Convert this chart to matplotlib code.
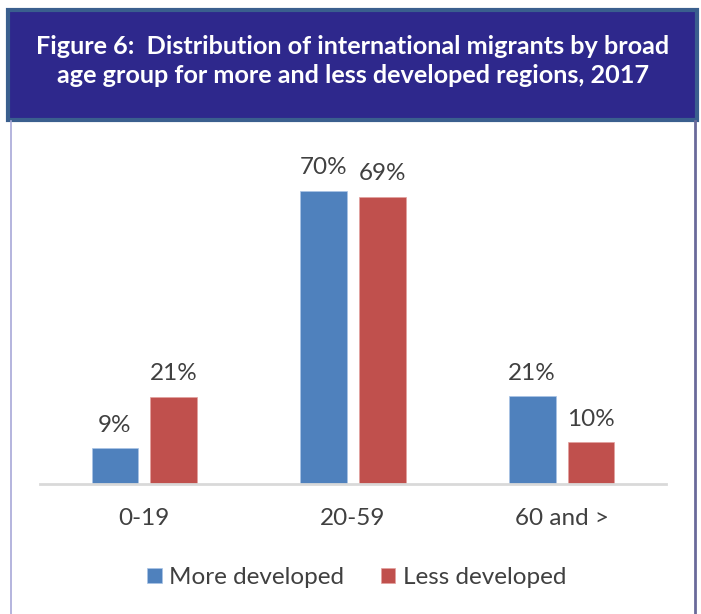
import matplotlib.pyplot as plt
import numpy as np
from matplotlib.patches import Rectangle
from matplotlib.lines import Line2D

# data
age_groups = ['0-19', '20-59', '60 and >']
more_developed = [8.6, 70.4, 21.1]
less_developed = [20.9, 68.9, 10.0]
series_names = ['More developed', 'Less developed']

title = ('Figure 6:  Distribution of international migrants by broad\n'
         'age group for more and less developed regions, 2017')

blue = '#4F81BD'
red = '#C0504D'
text_col = '#404040'

plt.rcParams['font.family'] = ['Lato', 'DejaVu Sans']

W, H = 701, 614
fig = plt.figure(figsize=(W / 100, H / 100), dpi=100)

# title banner
fig.patches.append(Rectangle((8 / W, 1 - 120 / H), 689 / W, 110 / H,
                             transform=fig.transFigure, facecolor='#2E288C',
                             edgecolor='#3A5F8E', linewidth=3, zorder=0))
fig.text(353 / W, 1 - 61 / H, title, color='white', fontsize=18.2,
         fontweight='bold', ha='center', va='center', linespacing=1.3)

# side borders of the frame
fig.add_artist(Line2D([11 / W, 11 / W], [0, 1 - 121 / H], color='#A8A8D8',
                      linewidth=1.2, transform=fig.transFigure))
fig.add_artist(Line2D([695 / W, 695 / W], [0, 1 - 121 / H], color='#6A6A9A',
                      linewidth=2, transform=fig.transFigure))

# plot area: baseline at y=484px, x from 40 to 666px
ax = fig.add_axes([40 / W, (H - 484) / H, 626 / W, 333.3 / H])

x = np.arange(len(age_groups))
bw = 0.223
off = 0.141
b1 = ax.bar(x - off, more_developed, bw, color=blue, label=series_names[0],
            edgecolor='#A9C4E6', linewidth=0.5)
b2 = ax.bar(x + off, less_developed, bw, color=red, label=series_names[1],
            edgecolor='#E3A09E', linewidth=0.5)

for bars, vals in [(b1, more_developed), (b2, less_developed)]:
    for b, v in zip(bars, vals):
        ax.annotate(f'{v:.0f}%', (b.get_x() + b.get_width() / 2, b.get_height()),
                    xytext=(0, 9), textcoords='offset points', ha='center',
                    va='bottom', fontsize=17.5, color=text_col)

ax.set_xlim(-0.5, 2.5)
ax.set_ylim(0, 80)
ax.set_yticks([])
ax.set_xticks(x)
ax.set_xticklabels(age_groups, fontsize=17.5, color=text_col)
ax.tick_params(axis='x', length=0, pad=17)
for s in ['top', 'right', 'left']:
    ax.spines[s].set_visible(False)
ax.spines['bottom'].set_color('#D9D9D9')
ax.spines['bottom'].set_linewidth(2)
ax.patch.set_visible(False)

ax.legend(loc='center', bbox_to_anchor=(0.506, -0.28), ncol=2, frameon=False,
          fontsize=17.5, labelcolor=text_col, handlelength=0.6, handleheight=0.6,
          handletextpad=0.3, columnspacing=1.5)

fig.savefig('out.png', dpi=100)
